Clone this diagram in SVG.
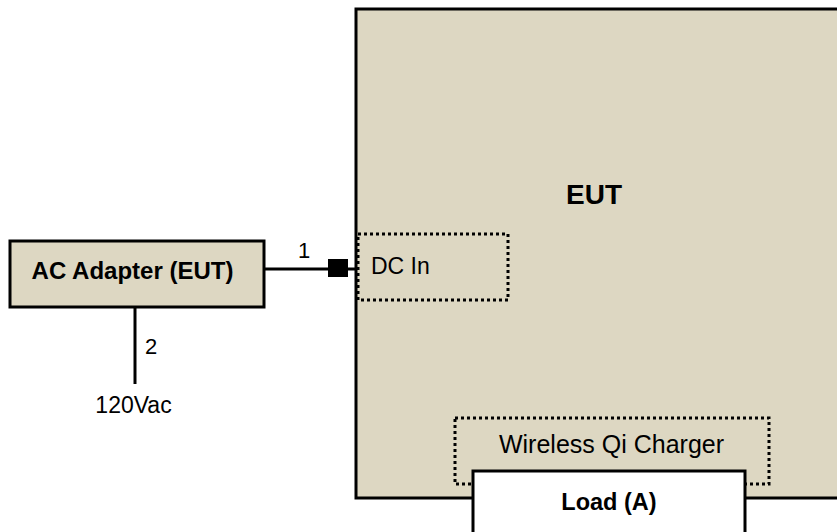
<svg xmlns="http://www.w3.org/2000/svg" width="837" height="532" viewBox="0 0 837 532">
<style>
.box{fill:#ddd7c2;stroke:#000;stroke-width:3}
.dot{fill:none;stroke:#000;stroke-width:3;stroke-dasharray:3 3}
.ln{stroke:#000;stroke-width:3;fill:none}
text{font-family:"Liberation Sans",Arial,sans-serif;fill:#000}
.b{font-weight:bold}
</style>
<rect width="837" height="532" fill="#fff"/>
<g id="eut">
<rect class="box" x="356" y="9" width="500" height="489"/>
<text class="b" x="594" y="204" font-size="28" text-anchor="middle">EUT</text>
</g>
<g id="dcin">
<rect class="dot" x="358" y="234" width="150" height="66"/>
<text x="371" y="274" font-size="23">DC In</text>
</g>
<g id="wireless">
<rect class="dot" x="455" y="418" width="314" height="66"/>
<text x="611.5" y="453" font-size="25" text-anchor="middle">Wireless Qi Charger</text>
</g>
<g id="load">
<rect x="473" y="471" width="272" height="80" fill="#fff" stroke="#000" stroke-width="3"/>
<text class="b" x="609" y="510" font-size="23.5" text-anchor="middle">Load (A)</text>
</g>
<g id="adapter">
<rect class="box" x="10" y="241" width="254" height="66"/>
<text class="b" x="132.5" y="279" font-size="24" text-anchor="middle">AC Adapter (EUT)</text>
</g>
<g id="connectors">
<line class="ln" x1="264" y1="269" x2="356" y2="269"/>
<rect x="328" y="259" width="20" height="18" fill="#000"/>
<text x="304" y="258" font-size="22" text-anchor="middle">1</text>
<line class="ln" x1="135" y1="307" x2="135" y2="384"/>
<text x="151" y="354" font-size="22" text-anchor="middle">2</text>
<text x="133.5" y="413" font-size="23" text-anchor="middle">120Vac</text>
</g>
</svg>
